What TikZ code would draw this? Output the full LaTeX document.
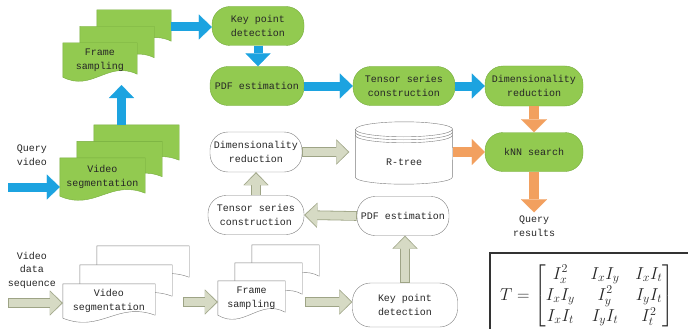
\documentclass[tikz,border=0pt]{standalone}
\usepackage{amsmath}
\usepackage{fontspec}
\setmonofont{Liberation Mono}
\usepackage{xcolor}
\usetikzlibrary{arrows.meta,calc,positioning}
\pgfdeclarelayer{background}
\pgfsetlayers{background,main}

\definecolor{leafgreen}{RGB}{146,202,80}
\definecolor{leafedge}{RGB}{118,172,62}
\definecolor{skyblue}{RGB}{28,163,224}
\definecolor{peach}{RGB}{242,160,95}
\definecolor{sage}{RGB}{214,218,196}
\definecolor{sageedge}{RGB}{158,164,134}
\definecolor{pencil}{RGB}{125,125,125}

% stack of three pages behind a front node: node, page style, rise
\newcommand\docstack[3]{%
  \begin{pgfonlayer}{background}
  \foreach \k in {2,1,0}
    \draw[#2] ($(#1.north west)+(17*\k,-#3*\k)$) -- ($(#1.north east)+(17*\k,-#3*\k)$)
      -- ($(#1.south east)+(17*\k,-#3*\k-3)$)
      .. controls ($(#1.south)+(17*\k+8,-#3*\k-17)$) and ($(#1.south)+(17*\k-8,-#3*\k+15)$)
      .. ($(#1.south west)+(17*\k,-#3*\k)$) -- cycle;
  \end{pgfonlayer}}

\begin{document}
\begin{tikzpicture}[x=1pt,y=-1pt,
    every node/.style={font=\ttfamily\fontsize{10}{13.5}\selectfont, text=black!85},
    greenbox/.style={draw=leafedge, fill=leafgreen, rounded corners=18pt, minimum width=94pt, minimum height=39pt, align=center},
    whitebox/.style={draw=pencil, fill=white, rounded corners=18pt, minimum width=92pt, minimum height=39pt, align=center},
    docfront/.style={minimum width=#1, minimum height=34pt, align=center},
    greenpage/.style={draw=leafedge, fill=leafgreen},
    whitepage/.style={draw=pencil, fill=white},
    bluearr/.style={draw=skyblue, line width=9pt, -{Triangle[width=25pt,length=13pt,line width=0.1pt]}},
    peacharr/.style={draw=peach, line width=10pt, -{Triangle[width=26pt,length=13pt,line width=0.1pt]}},
    sagearr/.style={draw=sage, line width=8pt, -{Triangle[width=22.5pt,length=11.5pt,line width=0.1pt]},
      shorten >=1.3pt, shorten <=0.8pt,
      preaction={draw=sageedge, line width=9.6pt, -{Triangle[width=25pt,length=13pt,line width=0.1pt]}, shorten >=0pt, shorten <=0pt}}]
  \useasboundingbox (0,0) rectangle (688,329);
  \clip (0,0) rectangle (688,329);

  % query side
  \node (qvid) at (32,155) [align=center] {Query\\video};
  \node[docfront=85pt, minimum height=38pt] (vsegG) at (102.5,177) {Video\\segmentation};
  \docstack{vsegG}{greenpage}{16.5}
  \node[docfront=74pt] (frameG) at (100,60) {Frame\\sampling};
  \docstack{frameG}{greenpage}{16.5}
  \node[greenbox, minimum width=92pt] (kpG) at (258,26) {Key point\\detection};
  \node[greenbox] (pdfG) at (257,86) {PDF estimation};
  \node[greenbox, right of=pdfG, node distance=147pt, minimum width=102pt] (tensG) {Tensor series\\construction};
  \node[greenbox, right of=tensG, node distance=130pt, minimum width=98pt, minimum height=40pt] (dimG) {Dimensionality\\reduction};
  \node[greenbox, below of=dimG, node distance=66pt, minimum width=98pt] (knn) {kNN search};
  \node (qres) at (534,226) [align=center] {Query\\results};

  \coordinate (qin) at (8,187);
  \coordinate (vgout) at ($(vsegG.north)+(19,-33)$);
  \coordinate (fgin) at (121.5,85);
  \coordinate (fgout) at ($(frameG.east)+(34,-33)$);
  \draw[bluearr] (qin) -- (qin -| vsegG.west);
  \draw[bluearr] (vgout) -- (fgin);
  \draw[bluearr] (fgout) -- (fgout -| kpG.west);
  \draw[bluearr] (kpG.south) -- (kpG.south |- pdfG.north);
  \draw[bluearr] (pdfG.east) -- (tensG.west);
  \draw[bluearr] (tensG.east) -- (dimG.west);
  \draw[peacharr] (dimG.south) -- (knn.north);
  \draw[peacharr] (knn.south) -- (qres.north);

  % database side
  \node (vdata) at (32,270) [align=center] {Video\\data\\sequence};
  \node[docfront=92pt] (vsegW) at (109,301) {Video\\segmentation};
  \docstack{vsegW}{whitepage}{19}
  \node[docfront=67pt] (frameW) at (251.5,298) {Frame\\sampling};
  \docstack{frameW}{whitepage}{18}
  \node[whitebox, minimum width=105pt, minimum height=44pt] (kpW) at (405,305) {Key point\\detection};
  \node[whitebox] (pdfW) at (403,216) {PDF estimation};
  \node[whitebox, minimum width=96pt] (tensW) at (256,215) {Tensor series\\construction};
  \node[whitebox, minimum height=40pt] (dimW) at (256,152) {Dimensionality\\reduction};
  \node[minimum width=97pt, minimum height=44pt] (rtree) at (404,162) {R-tree};
  \begin{pgfonlayer}{background}
    \draw[pencil, fill=white] ($(rtree.north west)+(0,-10.5)$) -- ($(rtree.south west)+(0,-7)$)
      arc[start angle=180, end angle=360, x radius=48.5pt, y radius=7pt]
      -- ($(rtree.north east)+(0,-10.5)$)
      arc[start angle=0, end angle=180, x radius=48.5pt, y radius=7.5pt] -- cycle;
    \foreach \d in {-10.5,-7.5,-4.5}
      \draw[pencil] ($(rtree.north west)+(0,\d)$) arc[start angle=180, end angle=360, x radius=48.5pt, y radius=7.5pt];
  \end{pgfonlayer}

  \coordinate (vin) at (8,303);
  \coordinate (vsout) at ($(vsegW.east)+(28,1)$);
  \coordinate (fsout) at ($(frameW.east)+(20,4)$);
  \draw[sagearr] (vin) -- (vin -| vsegW.west);
  \draw[sagearr] (vsout) -- (vsout -| frameW.west);
  \draw[sagearr] (fsout) -- (fsout -| kpW.west);
  \draw[sagearr] (kpW.north) -- (kpW.north |- pdfW.south);
  \draw[sagearr] (pdfW.west) -- (tensW.east);
  \draw[sagearr] (tensW.north) -- (dimW.south);
  \draw[sagearr] (dimW.east) -- ([xshift=-6pt]dimW.east -| rtree.west);
  \draw[peacharr] (knn.west -| rtree.east) -- (knn.west);

  % tensor definition
  \draw[line width=1.6pt, black!80] (490,253) rectangle (700,340);
  \node[font=\fontsize{18}{21}\selectfont] (tmat) at (587,296)
    {$\setlength{\arraycolsep}{8pt}T=\begin{bmatrix} I_x^2 & I_xI_y & I_xI_t\\ I_xI_y & I_y^2 & I_yI_t\\ I_xI_t & I_yI_t & I_t^2 \end{bmatrix}$};
\end{tikzpicture}
\end{document}
